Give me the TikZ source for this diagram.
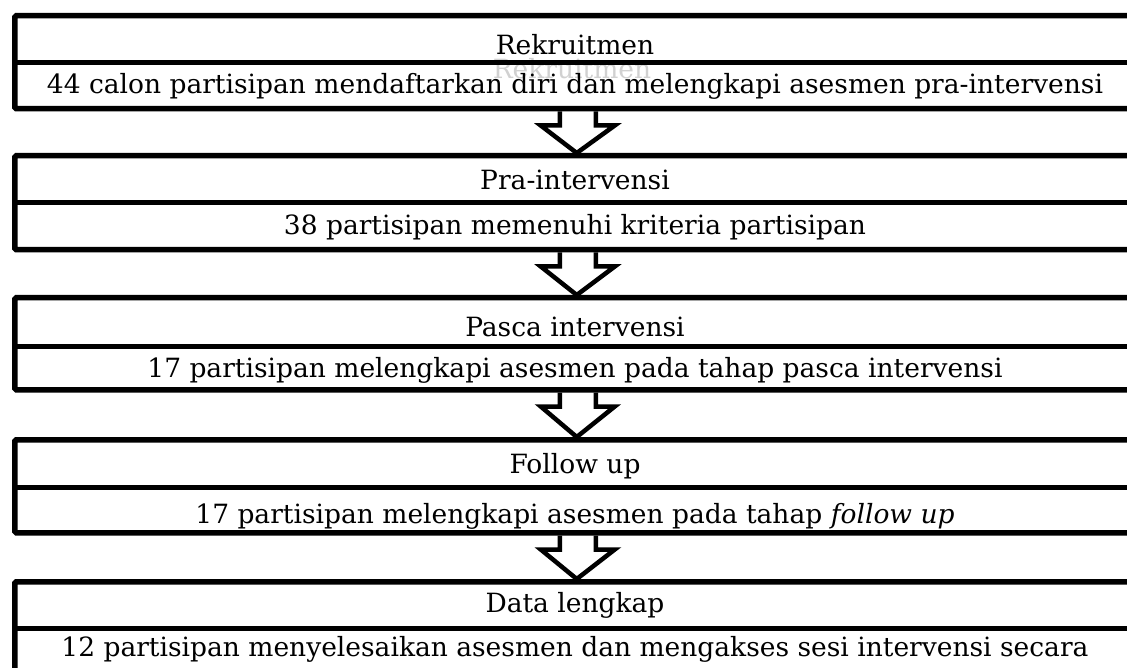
\documentclass[tikz,border=0pt]{standalone}
\usepackage{fontspec}
\setmainfont{DejaVu Serif}
\usetikzlibrary{calc}
\newcommand\fsz{\fontsize{26.5}{31}\selectfont}
\begin{document}
\begin{tikzpicture}[x=1pt,y=-1pt,
  box/.style={draw,line width=5.5pt,rounded corners=1.5pt,inner sep=0pt,anchor=north west,minimum width=1126pt},
  divider/.style={line width=5pt},
  txt/.style={anchor=base,inner sep=0pt,font=\fsz},
  barrow/.style={draw,line width=4.5pt,line join=miter}]
\useasboundingbox (0,0) rectangle (1127,668);
\clip (0,0) rectangle (1127,668);
% ghost text
\node[txt,text=black!18] (ghost) at (572,79) {Rekruitmen};
% boxes
\node[box,minimum height=93pt] (b1) at (12,13) {};
\node[box,minimum height=94pt] (b2) at (12,153) {};
\node[box,minimum height=92pt] (b3) at (12,295) {};
\node[box,minimum height=93pt] (b4) at (12,437) {};
\node[box,minimum height=95pt] (b5) at (12,579) {};
% dividers
\coordinate (d1) at (0,63);
\coordinate (d2) at (0,203);
\coordinate (d3) at (0,346);
\coordinate (d4) at (0,487);
\coordinate (d5) at (0,628);
\foreach \i in {1,...,5}{\draw[divider] (b\i.west |- d\i) -- (b\i.east |- d\i);}
% texts
\node[txt] (t1a) at (575,55) {Rekruitmen};
\node[txt] (t1b) at (575,94) {44 calon partisipan mendaftarkan diri dan melengkapi asesmen pra-intervensi};
\node[txt] (t2a) at (575,190) {Pra-intervensi};
\node[txt] (t2b) at (575,235) {38 partisipan memenuhi kriteria partisipan};
\node[txt] (t3a) at (575,337) {Pasca intervensi};
\node[txt] (t3b) at (575,377) {17 partisipan melengkapi asesmen pada tahap pasca intervensi};
\node[txt] (t4a) at (575,473) {Follow up};
\node[txt] (t4b) at (575,523) {17 partisipan melengkapi asesmen pada tahap \textit{follow up}};
\node[txt] (t5a) at (575,612) {Data lengkap};
\node[txt] (t5b) at (575,656) {12 partisipan menyelesaikan asesmen dan mengakses sesi intervensi secara};
% block arrows
\foreach \a/\b in {b1/b2,b2/b3,b3/b4,b4/b5}{
  \draw[barrow] ($(\a.south)+(-18,0)$) -- ++(0,14) -- ++(-19,0) -- ($(\b.north)+(-1,0)$)
     -- ($(\a.south)+(37,14)$) -- ++(-19,0) -- ++(0,-14);
}
\end{tikzpicture}
\end{document}
